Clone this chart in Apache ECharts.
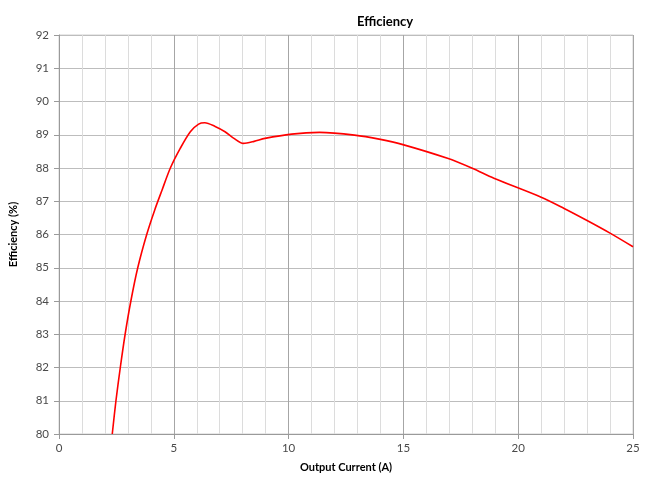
<!DOCTYPE html>
<html><head><meta charset="utf-8">
<script src="https://cdn.jsdelivr.net/npm/echarts@6/dist/echarts.min.js"></script>
<style>html,body{margin:0;padding:0;background:#fff}#c{width:647px;height:479px}</style>
</head><body><div id="c"></div>
<script>
const currentA = [2.32, 2.48, 2.67, 2.88, 3.13, 3.43, 3.82, 4.17, 4.49, 4.85, 5.28, 5.72, 6.08, 6.35, 6.8, 7.23, 7.6, 8.03, 8.5, 8.97, 10.13, 11.35, 12.87, 14.0, 14.94, 16.92, 18.0, 18.94, 21.0, 21.98, 23.0, 24.0, 25.0];
const efficiency = [80, 81, 82, 83, 84, 85, 86.0, 86.74, 87.34, 88.0, 88.59, 89.09, 89.32, 89.36, 89.25, 89.09, 88.9, 88.74, 88.8, 88.89, 89.02, 89.07, 88.99, 88.86, 88.71, 88.29, 87.99, 87.69, 87.12, 86.79, 86.42, 86.04, 85.63];
const titleText = "Efficiency";
const xName = "Output Current (A)";
const yName = "Efficiency (%)";

const font = "Lato, 'Open Sans', sans-serif";
const chart = echarts.init(document.getElementById('c'), null, {renderer: 'canvas'});
chart.setOption({
  animation: false,
  backgroundColor: '#fff',
  title: {text: titleText, left: 352, top: 10,
    textStyle: {fontFamily: font, fontSize: 13, fontWeight: 'bold', color: '#000'}},
  grid: {left: 56.5, right: 14, top: 35, bottom: 45, show: true, borderColor: '#d0d0d0', borderWidth: 1},
  xAxis: {
    type: 'value', min: 0, max: 25, interval: 5,
    name: xName, nameLocation: 'middle', nameGap: 28,
    nameTextStyle: {fontFamily: font, fontSize: 11, fontWeight: 'bold', color: '#000'},
    axisLine: {show: true, lineStyle: {color: '#9a9a9a', width: 1}},
    axisTick: {show: true, length: 5, lineStyle: {color: '#9a9a9a'}},
    axisLabel: {fontFamily: font, fontSize: 11.5, color: '#4a4a4a', margin: 8},
    splitLine: {show: true, lineStyle: {color: '#a6a6a6', width: 1}},
    minorTick: {show: false, splitNumber: 5},
    minorSplitLine: {show: true, lineStyle: {color: '#dcdcdc', width: 1}}
  },
  yAxis: {
    type: 'value', min: 80, max: 92, interval: 1,
    name: yName, nameLocation: 'middle', nameGap: 40,
    nameTextStyle: {fontFamily: font, fontSize: 11, fontWeight: 'bold', color: '#000'},
    axisLine: {show: true, lineStyle: {color: '#9a9a9a', width: 1}},
    axisTick: {show: true, length: 5, lineStyle: {color: '#9a9a9a'}},
    axisLabel: {fontFamily: font, fontSize: 11.5, color: '#4a4a4a', margin: 10},
    splitLine: {show: true, lineStyle: {color: '#bdbdbd', width: 1}}
  },
  series: [{
    type: 'line', smooth: 0.3, symbol: 'none',
    data: currentA.map((x, i) => [x, efficiency[i]]),
    lineStyle: {color: '#ff0000', width: 1.6}
  }]
});
</script></body></html>
